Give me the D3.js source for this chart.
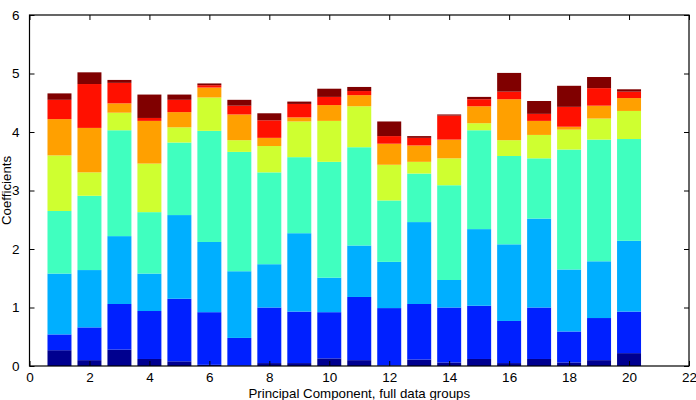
<!DOCTYPE html>
<html>
<head>
<meta charset="utf-8">
<script src="https://cdn.jsdelivr.net/npm/d3@7"></script>
<style>
  body { margin: 0; background: #fff; }
  text { font-family: "Liberation Sans", Arial, sans-serif; }
</style>
</head>
<body>
<div id="chart"></div>
<script>
// chart data
const components = d3.range(1, 21);
const groups = ["g1", "g2", "g3", "g4", "g5", "g6", "g7", "g8"];
const g1 = [0.27, 0.10, 0.28, 0.12, 0.08, 0.02, 0.01, 0.05, 0.05, 0.13, 0.10, 0.01, 0.11, 0.06, 0.12, 0.05, 0.12, 0.06, 0.10, 0.22];
const g2 = [0.27, 0.56, 0.78, 0.82, 1.07, 0.90, 0.47, 0.95, 0.88, 0.79, 1.08, 0.98, 0.95, 0.94, 0.91, 0.72, 0.88, 0.53, 0.72, 0.71];
const g3 = [1.04, 0.98, 1.16, 0.64, 1.43, 1.20, 1.14, 0.74, 1.34, 0.59, 0.88, 0.79, 1.40, 0.47, 1.31, 1.31, 1.52, 1.06, 0.97, 1.21];
const g4 = [1.07, 1.27, 1.81, 1.05, 1.24, 1.90, 2.04, 1.57, 1.30, 1.98, 1.68, 1.05, 0.83, 1.62, 1.69, 1.51, 1.03, 2.05, 2.08, 1.74];
const g5 = [0.95, 0.40, 0.30, 0.83, 0.26, 0.57, 0.20, 0.45, 0.61, 0.70, 0.70, 0.61, 0.20, 0.46, 0.12, 0.27, 0.40, 0.34, 0.36, 0.48];
const g6 = [0.62, 0.76, 0.16, 0.73, 0.26, 0.17, 0.44, 0.14, 0.07, 0.27, 0.19, 0.36, 0.28, 0.32, 0.29, 0.70, 0.24, 0.05, 0.22, 0.22];
const g7 = [0.33, 0.75, 0.35, 0.05, 0.21, 0.04, 0.15, 0.30, 0.23, 0.14, 0.07, 0.13, 0.13, 0.41, 0.12, 0.13, 0.12, 0.34, 0.30, 0.11];
const g8 = [0.11, 0.20, 0.05, 0.40, 0.09, 0.03, 0.10, 0.12, 0.04, 0.14, 0.07, 0.25, 0.03, 0.02, 0.04, 0.32, 0.22, 0.36, 0.19, 0.04];
const xTicks = [0, 2, 4, 6, 8, 10, 12, 14, 16, 18, 20, 22];
const yTicks = [0, 1, 2, 3, 4, 5, 6];

// jet colormap samples
const colors = ["#00008f", "#0020ff", "#00afff", "#40ffbf", "#cfff30", "#ffa000", "#ff1000", "#800000"];

const width = 696;
const height = 400;
const margin = {top: 15, right: 7, bottom: 34, left: 29.5};

const svg = d3.select("#chart")
    .append("svg")
    .attr("width", width)
    .attr("height", height);

const x = d3.scaleLinear().domain([0, 22]).range([margin.left, width - margin.right]);
const y = d3.scaleLinear().domain([0, 6]).range([height - margin.bottom, margin.top]);

// build table for stacking
const series = [g1, g2, g3, g4, g5, g6, g7, g8];
const table = components.map((c, i) => {
    const row = {comp: c};
    groups.forEach((g, j) => row[g] = series[j][i]);
    return row;
});
const stacked = d3.stack().keys(groups)(table);

const barW = 0.8;

svg.append("g")
    .selectAll("g")
    .data(stacked)
    .enter().append("g")
    .attr("fill", (d, i) => colors[i])
    .selectAll("rect")
    .data(d => d)
    .enter().append("rect")
    .attr("x", d => x(d.data.comp - barW / 2))
    .attr("width", x(barW) - x(0))
    .attr("y", d => y(d[1]))
    .attr("height", d => y(d[0]) - y(d[1]));

// axes, ticks inside, box all round
const tickLen = 5;
const axisCol = "#000";

svg.append("g")
    .attr("transform", `translate(0,${y(0)})`)
    .call(d3.axisBottom(x).tickValues(xTicks).tickSize(-tickLen).tickPadding(6.5).tickFormat(d3.format("d")))
    .call(g => g.select(".domain").remove());

svg.append("g")
    .attr("transform", `translate(0,${y(6)})`)
    .call(d3.axisTop(x).tickValues(xTicks).tickSize(-tickLen).tickFormat(""))
    .call(g => g.select(".domain").remove());

svg.append("g")
    .attr("transform", `translate(${x(0)},0)`)
    .call(d3.axisLeft(y).tickValues(yTicks).tickSize(-tickLen).tickPadding(10).tickFormat(d3.format("d")))
    .call(g => g.select(".domain").remove());

svg.append("g")
    .attr("transform", `translate(${x(22)},0)`)
    .call(d3.axisRight(y).tickValues(yTicks).tickSize(-tickLen).tickFormat(""))
    .call(g => g.select(".domain").remove());

svg.selectAll(".tick line").attr("stroke", axisCol);
svg.selectAll(".tick text")
    .attr("font-size", 13.5)
    .attr("font-family", "Liberation Sans, Arial, sans-serif")
    .attr("fill", "#000");

svg.append("rect")
    .attr("x", x(0))
    .attr("y", y(6))
    .attr("width", x(22) - x(0))
    .attr("height", y(0) - y(6))
    .attr("fill", "none")
    .attr("stroke", axisCol)
    .attr("stroke-width", 1.2);

// labels
svg.append("text")
    .attr("x", (x(0) + x(22)) / 2)
    .attr("y", 397.5)
    .attr("text-anchor", "middle")
    .attr("font-size", 13.3)
    .text("Principal Component, full data groups");

svg.append("text")
    .attr("transform", `translate(11,${(y(0) + y(6)) / 2}) rotate(-90)`)
    .attr("text-anchor", "middle")
    .attr("font-size", 13.3)
    .text("Coefficients");
</script>
</body>
</html>
